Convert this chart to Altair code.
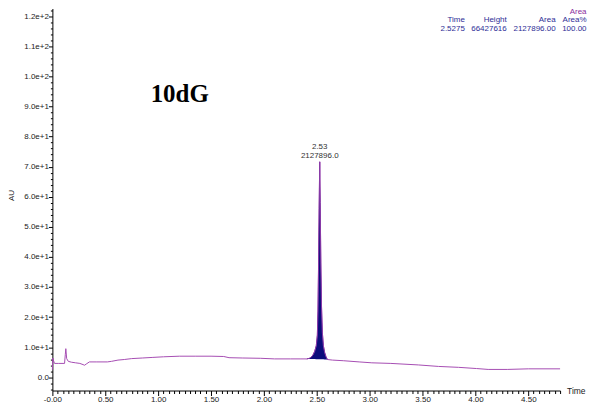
import altair as alt
import pandas as pd

# ---- data ----
base_time = [0.000, 0.004, 0.012, 0.02, 0.06, 0.115, 0.122, 0.127, 0.135, 0.15, 0.18, 0.22,
             0.26, 0.29, 0.305, 0.32, 0.35, 0.42, 0.52, 0.56, 0.62, 0.68, 0.75, 0.85, 0.95,
             1.05, 1.2, 1.35, 1.5, 1.62, 1.67, 1.8, 1.97, 2.1, 2.25, 2.35]
base_au = [2.5, 6.4, 5.4, 4.6, 4.6, 4.6, 7.5, 9.5, 6.2, 5.3, 5.0, 4.8,
           4.6, 4.2, 4.0, 4.4, 5.1, 5.1, 5.1, 5.3, 5.7, 5.9, 6.2, 6.4, 6.6,
           6.8, 7.0, 7.0, 7.0, 6.9, 6.5, 6.4, 6.3, 6.1, 6.1, 6.1]

peak_time = [2.405, 2.43, 2.45, 2.465, 2.48, 2.495, 2.505, 2.511, 2.516, 2.522, 2.5275,
             2.532, 2.538, 2.544, 2.552, 2.562, 2.574, 2.587, 2.60]
peak_au = [6.1, 6.3, 6.8, 7.5, 8.6, 10.5, 14.0, 22.0, 36.0, 56.0, 71.6,
           58.0, 38.0, 24.0, 15.0, 10.5, 8.2, 6.8, 5.9]
peak_base = [6.1, 6.1, 6.1, 6.1, 6.1, 6.0, 6.0, 6.0, 6.0, 6.0, 6.0,
             6.0, 6.0, 6.0, 6.0, 6.0, 5.9, 5.9, 5.9]

tail_time = [2.65, 2.75, 2.9, 3.02, 3.2, 3.46, 3.65, 3.84, 4.01, 4.12, 4.3, 4.5, 4.8]
tail_au = [5.7, 5.5, 5.1, 4.8, 4.6, 4.1, 3.6, 3.3, 2.9, 2.6, 2.6, 2.8, 2.8]

peak_rt = [2.5275]
peak_height = [71.6]
peak_rt_label = ["2.53"]
peak_area_label = ["2127896.0"]

header_cols = ["Time", "Height", "Area", "Area%"]
header_vals = ["2.5275", "66427616", "2127896.00", "100.00"]
header_top = "Area"
sample_name = "10dG"

x_ticks = [round(i * 0.05, 2) for i in range(0, 97)]
y_ticks = list(range(-4, 123, 2))

# ---- tables ----
trace = pd.DataFrame({"time": base_time + peak_time + tail_time,
                      "au": base_au + peak_au + tail_au})
peak = pd.DataFrame({"time": peak_time, "au": peak_au, "base": peak_base})
plabel = pd.DataFrame({"time": peak_rt, "au": peak_height,
                       "rt": peak_rt_label, "area": peak_area_label})

FONT = "Liberation Sans"
xscale = alt.Scale(domain=[0, 4.8], nice=False, zero=False)
yscale = alt.Scale(domain=[-4.41, 122.55], nice=False, zero=False)

x_axis = alt.Axis(
    values=x_ticks, title="Time", titleX=515.5, titleY=0, titleAlign="left",
    titleBaseline="middle", titleFontWeight="normal", titleFontSize=8.5,
    titleFont=FONT, titleColor="#222",
    labelExpr="abs(datum.value*2 - round(datum.value*2)) < 0.001 ? (datum.value == 0 ? '-0.00' : format(datum.value, '.2f')) : ''",
    labelFlush=False, labelOverlap=False, labelFont=FONT, labelFontSize=8,
    labelColor="#222", labelPadding=0,
    tickSize={"condition": {"test": "abs(datum.value*2 - round(datum.value*2)) < 0.001", "value": 5}, "value": 3},
    tickColor="#000", domainColor="#000", grid=False,
)
y_axis = alt.Axis(
    values=y_ticks, title="AU", titleX=-40.5, titleY=187, titleAngle=270,
    titleAlign="center", titleBaseline="middle", titleFontWeight="normal",
    titleFontSize=8, titleFont=FONT, titleColor="#222",
    labelExpr="datum.value % 10 == 0 ? (datum.value == 0 ? '0.0' : format(datum.value, '.1e')) : ''",
    labelOverlap=False, labelFont=FONT, labelFontSize=8, labelColor="#222",
    labelPadding=0, labelBaseline="middle",
    tickSize={"condition": {"test": "datum.value % 10 == 0", "value": 4}, "value": 2},
    tickColor="#000", domainColor="#000", grid=False,
)

X = alt.X("time:Q", scale=xscale, axis=x_axis)
Y = alt.Y("au:Q", scale=yscale, axis=y_axis)

line = alt.Chart(trace).mark_line(color="#a64db3", strokeWidth=1).encode(x=X, y=Y)
area = alt.Chart(peak).mark_area(color="#0c0c7c", opacity=1).encode(x=X, y=Y, y2="base:Q")
outline = alt.Chart(peak).mark_line(color="#8a3aa8", strokeWidth=1).encode(x=X, y=Y)
rt_text = alt.Chart(plabel).mark_text(font=FONT, fontSize=8, color="#333", dy=-15,
                                      baseline="middle").encode(x=X, y=Y, text="rt:N")
area_text = alt.Chart(plabel).mark_text(font=FONT, fontSize=8, color="#333", dy=-6,
                                        baseline="middle").encode(x=X, y=Y, text="area:N")

layers = [line, area, outline, rt_text, area_text]

col_right = [413.5, 455.5, 504.5, 535.5]
for i, (c, v) in enumerate(zip(header_cols, header_vals)):
    dfc = pd.DataFrame({"lab": [c], "val": [v]})
    layers.append(alt.Chart(dfc).mark_text(font=FONT, fontSize=8, color="#2e2e96",
                                           align="right", baseline="middle").encode(
        x=alt.value(col_right[i]), y=alt.value(12), text="lab:N"))
    layers.append(alt.Chart(dfc).mark_text(font=FONT, fontSize=8, color="#2e2e96",
                                           align="right", baseline="middle").encode(
        x=alt.value(col_right[i]), y=alt.value(20.5), text="val:N"))

top_df = pd.DataFrame({"lab": [header_top]})
layers.append(alt.Chart(top_df).mark_text(font=FONT, fontSize=8, color="#8a2f9e",
                                          align="right", baseline="top").encode(
    x=alt.value(535.5), y=alt.value(0), text="lab:N"))

name_df = pd.DataFrame({"lab": [sample_name]})
layers.append(alt.Chart(name_df).mark_text(font="Liberation Serif", fontSize=25,
                                           fontWeight="bold", color="#000",
                                           align="left", baseline="middle").encode(
    x=alt.value(98.5), y=alt.value(86), text="lab:N"))

chart = alt.layer(*layers).properties(
    width=509, height=383,
    padding={"left": 44.5, "top": 0, "right": 36, "bottom": 14},
    autosize=alt.AutoSizeParams(type="none"),
    background="white",
).configure_view(stroke=None)

chart.save("out.html", embed_options={"renderer": "svg", "actions": False})
